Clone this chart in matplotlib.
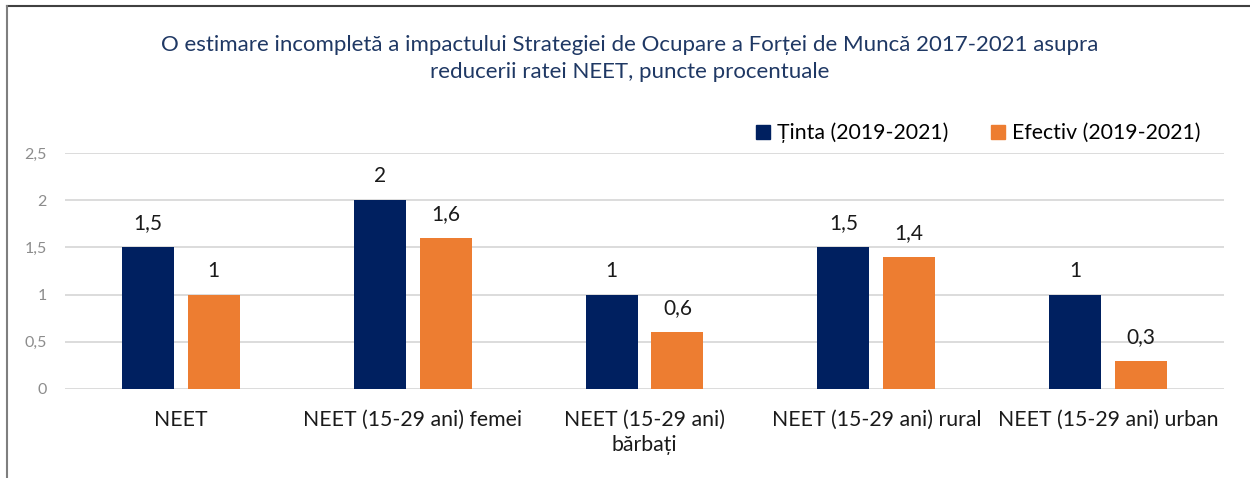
import matplotlib
matplotlib.use("Agg")
import matplotlib.pyplot as plt
import numpy as np
from matplotlib.lines import Line2D

plt.rcParams['font.family'] = ['Lato', 'DejaVu Sans']

title = "O estimare incompletă a impactului Strategiei de Ocupare a Forței de Muncă 2017-2021 asupra\nreducerii ratei NEET, puncte procentuale"
categories = ["NEET", "NEET (15-29 ani) femei", "NEET (15-29 ani)\nbărbați",
              "NEET (15-29 ani) rural", "NEET (15-29 ani) urban"]
series_names = ["Ținta (2019-2021)", "Efectiv (2019-2021)"]
tinta = [1.5, 2.0, 1.0, 1.5, 1.0]
efectiv = [1.0, 1.6, 0.6, 1.4, 0.3]
yticks = [0, 0.5, 1, 1.5, 2, 2.5]

navy = "#002060"
orange = "#ED7D31"

fig = plt.figure(figsize=(12.5, 4.78), dpi=100)
ax = fig.add_axes([65/1250, 1-389/478, (1224-65)/1250, (389-153)/478])

x = np.arange(len(categories))
w = 0.224
off = 0.142
b1 = ax.bar(x - off, tinta, w, color=navy, zorder=3)
b2 = ax.bar(x + off, efectiv, w, color=orange, zorder=3)

def fmt(v):
    s = f"{v:g}"
    return s.replace('.', ',')

for bars, vals in ((b1, tinta), (b2, efectiv)):
    for r, v in zip(bars, vals):
        ax.annotate(fmt(v), (r.get_x() + r.get_width()/2, v), xytext=(0, 17.3),
                    textcoords='offset points', ha='center', va='center',
                    fontsize=15, color='#1a1a1a')

ax.set_xlim(-0.5, len(categories) - 0.5)
ax.set_ylim(0, 2.5)
ax.set_yticks(yticks)
ax.set_yticklabels([fmt(t) for t in yticks], fontsize=11.5, color='#8c8c8c')
ax.set_xticks(x)
ax.set_xticklabels(categories, fontsize=15.3, color='#1a1a1a', linespacing=1.3)
ax.tick_params(axis='both', length=0)
ax.tick_params(axis='y', pad=13)
ax.tick_params(axis='x', pad=15)
ax.grid(axis='y', color='#d9d9d9', linewidth=1.3, zorder=0)
for s in ax.spines.values():
    s.set_visible(False)

fig.text(630/1250, 1-58.5/478, title, ha='center', va='center', fontsize=16,
         color='#1F3864', linespacing=1.4)

handles = [plt.Rectangle((0, 0), 1, 1, color=navy), plt.Rectangle((0, 0), 1, 1, color=orange)]
fig.legend(handles, series_names, loc='center left', bbox_to_anchor=(756/1250, 1-133/478),
           ncol=2, frameon=False, fontsize=15.3, handlelength=0.65, handleheight=0.65,
           handletextpad=0.35, columnspacing=2.0, borderpad=0, borderaxespad=0)

fig.add_artist(Line2D([7/1250, 1], [1-6/478, 1-6/478], color='#404040', linewidth=1.5,
                      transform=fig.transFigure))
fig.add_artist(Line2D([7/1250, 7/1250], [0, 1-6/478], color='#7f7f7f', linewidth=1.5,
                      transform=fig.transFigure))

fig.savefig("out.png", dpi=100)
